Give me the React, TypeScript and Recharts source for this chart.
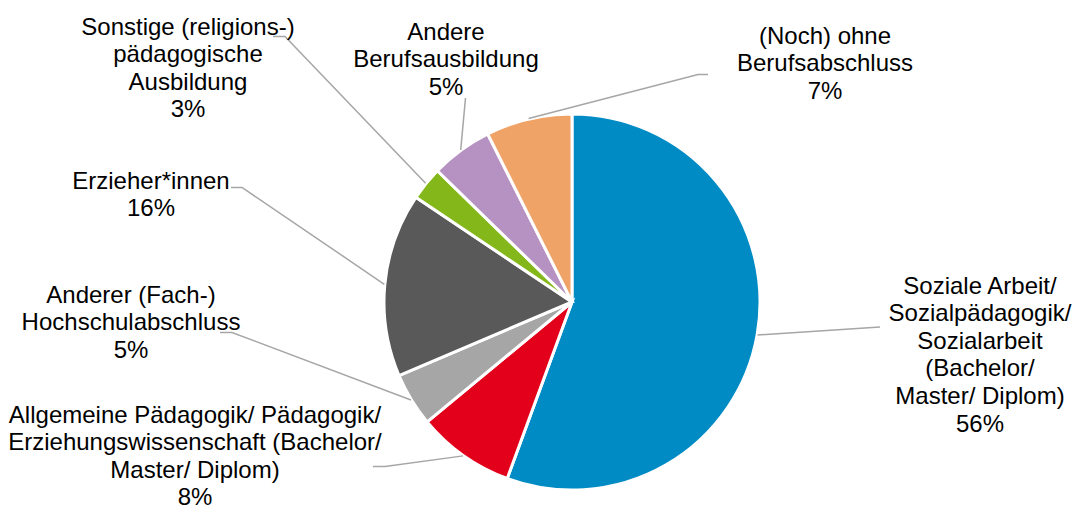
import React from "react";
import { PieChart, Pie, Cell } from "recharts";

// ---- data ----
const categories: string[] = [
  "Soziale Arbeit/ Sozialpädagogik/ Sozialarbeit (Bachelor/ Master/ Diplom)",
  "Allgemeine Pädagogik/ Pädagogik/ Erziehungswissenschaft (Bachelor/ Master/ Diplom)",
  "Anderer (Fach-) Hochschulabschluss",
  "Erzieher*innen",
  "Sonstige (religions-) pädagogische Ausbildung",
  "Andere Berufsausbildung",
  "(Noch) ohne Berufsabschluss",
];
const shares: number[] = [55.6, 8.4, 4.6, 15.8, 2.9, 5.3, 7.4];
const labelTexts: string[][] = [
  ["Soziale Arbeit/", "Sozialpädagogik/", "Sozialarbeit", "(Bachelor/", "Master/ Diplom)"],
  ["Allgemeine Pädagogik/ Pädagogik/", "Erziehungswissenschaft (Bachelor/", "Master/ Diplom)"],
  ["Anderer (Fach-)", "Hochschulabschluss"],
  ["Erzieher*innen"],
  ["Sonstige (religions-)", "pädagogische", "Ausbildung"],
  ["Andere", "Berufsausbildung"],
  ["(Noch) ohne", "Berufsabschluss"],
];

// ---- styles / layout ----
const colors = ["#008BC4", "#E2001A", "#A6A6A6", "#595959", "#84B81A", "#B692C2", "#F0A366"];
const labelLayout = [
  { tx: 980, ty: 285, elbow: [880, 327], end: [880, 327] },
  { tx: 195, ty: 414, elbow: [385, 466.5], end: [373, 466.5] },
  { tx: 131, ty: 294, elbow: [232, 332.5], end: [220, 332.5] },
  { tx: 151, ty: 180, elbow: [242, 187.5], end: [231, 187.5] },
  { tx: 188, ty: 26, elbow: [285, 36.5], end: [273, 36.5] },
  { tx: 446, ty: 31, elbow: [465.5, 98], end: [465.5, 98] },
  { tx: 825, ty: 35, elbow: [698, 74.5], end: [708, 74.5] },
];
const LINE_H = 27.6;
const FONT = "'Liberation Sans', Arial, sans-serif";

const data = categories.map((name, i) => ({ name, value: shares[i] }));
const RAD = Math.PI / 180;

const renderLabel = (props: any) => {
  const { cx, cy, midAngle, outerRadius, index, value } = props;
  const lay = labelLayout[index];
  const r = outerRadius + 0.5;
  const sx = cx + r * Math.cos(-midAngle * RAD);
  const sy = cy + r * Math.sin(-midAngle * RAD);
  const lines = [...labelTexts[index], `${Math.round(value)}%`];
  return (
    <g key={`lbl-${index}`}>
      <polyline
        points={`${sx},${sy} ${lay.elbow[0]},${lay.elbow[1]} ${lay.end[0]},${lay.end[1]}`}
        fill="none"
        stroke="#A6A6A6"
        strokeWidth={1.5}
      />
      <text
        x={lay.tx}
        textAnchor="middle"
        fontFamily={FONT}
        fontSize={24}
        fill="#000"
      >
        {lines.map((t, i) => (
          <tspan key={i} x={lay.tx} y={lay.ty + i * LINE_H + 8.6}>
            {t}
          </tspan>
        ))}
      </text>
    </g>
  );
};

export default function App() {
  return (
    <div style={{ position: "fixed", left: 0, top: 0, width: 1074, height: 506, background: "#fff" }}>
      <PieChart width={1074} height={506} margin={{ top: 0, right: 0, bottom: 0, left: 0 }}>
        <Pie
          data={data}
          dataKey="value"
          nameKey="name"
          cx={572}
          cy={302}
          outerRadius={188}
          innerRadius={0}
          startAngle={90}
          endAngle={-270}
          stroke="#fff"
          strokeWidth={3}
          label={renderLabel}
          labelLine={false}
          isAnimationActive={false}
        >
          {data.map((_, i) => (
            <Cell key={i} fill={colors[i]} />
          ))}
        </Pie>
      </PieChart>
    </div>
  );
}
